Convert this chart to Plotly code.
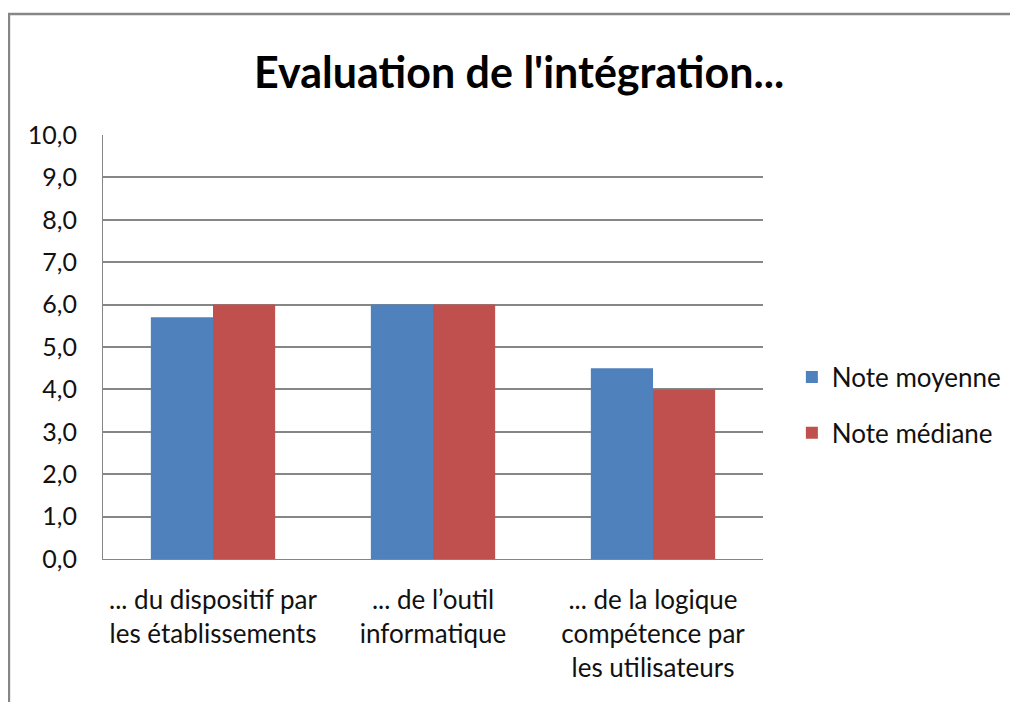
import plotly.graph_objects as go

categories = ["... du dispositif par<br>les établissements",
              "... de l’outil<br>informatique",
              "... de la logique<br>compétence par<br>les utilisateurs"]
note_moyenne = [5.7, 6.0, 4.5]
note_mediane = [6.0, 6.0, 4.0]
y_ticks = [0, 1, 2, 3, 4, 5, 6, 7, 8, 9, 10]

FONT = "Lato"
OFF = 8  # page body margin
W, H = 1018 - OFF, 702 - OFF
L, R, T, B = 103 - OFF, 766 - OFF, 135 - OFF, 559 - OFF

fig = go.Figure()
fig.add_trace(go.Bar(x=categories, y=note_moyenne, name="Note moyenne",
                     marker=dict(color="#4F81BD", line=dict(width=0)),
                     legendgroup="a"))
fig.add_trace(go.Bar(x=categories, y=note_mediane, name="Note médiane",
                     marker=dict(color="#C0504D", line=dict(width=0)),
                     legendgroup="b"))

def px_x(p):
    return (p - OFF - L) / (R - L)

def px_y(p):
    return (B - (p - OFF)) / (B - T)

fig.update_layout(
    width=W, height=H,
    margin=dict(l=L, r=W - R, t=T, b=H - B, pad=0),
    paper_bgcolor="white", plot_bgcolor="white",
    separators=", ",
    barmode="group", bargap=0.435, bargroupgap=0,
    font=dict(family=FONT, size=25, color="#111111"),
    title=dict(text="<b>Evaluation de l'intégration...</b>",
               font=dict(family=FONT, size=43, color="#000000"),
               x=px_x(521), xref="paper", xanchor="center",
               y=1 - (73 - OFF) / H, yref="container", yanchor="middle"),
    xaxis=dict(showgrid=False, showline=True, linecolor="#868686", linewidth=1,
               ticks="", ticklabelstandoff=18, tickfont=dict(size=26)),
    yaxis=dict(range=[0, 10], tickvals=y_ticks, tickformat=".1f",
               showgrid=True, gridcolor="#868686", gridwidth=2,
               showline=True, linecolor="#868686", linewidth=1,
               ticks="", ticklabelstandoff=20, zeroline=False,
               tickfont=dict(size=25)),
    legend=dict(x=px_x(795), y=px_y(405), xanchor="left", yanchor="middle",
                font=dict(size=26), tracegroupgap=19, traceorder="grouped",
                itemwidth=30, bgcolor="rgba(0,0,0,0)"),
    shapes=[dict(type="path", xref="paper", yref="paper",
                 path=f"M {px_x(8.5)} {px_y(720)} L {px_x(8.5)} {px_y(14)} L {px_x(1030)} {px_y(14)}",
                 line=dict(color="#868686", width=2.5))],
)

fig.write_html("out.html")
